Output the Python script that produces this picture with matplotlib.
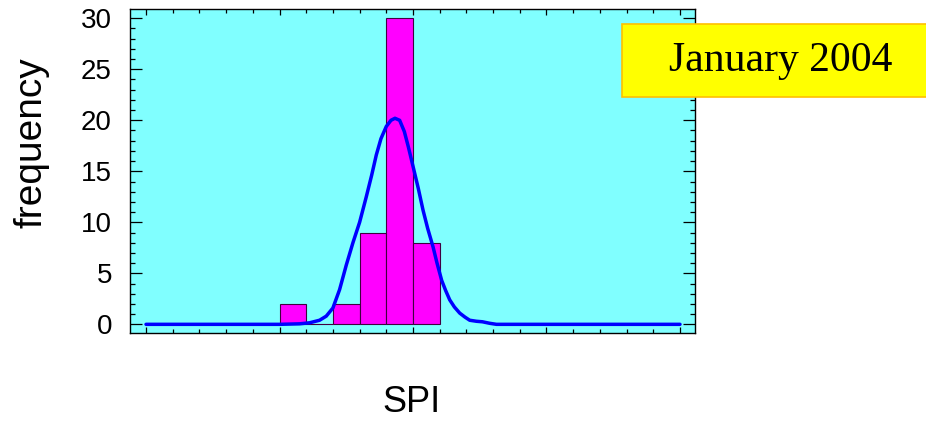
import numpy as np
from matplotlib import pyplot as plt
from matplotlib.patches import Rectangle
from matplotlib.ticker import MultipleLocator

# histogram bins (left edge) and counts
bin_left = [-2.0, -1.6, -1.2, -0.8, -0.4, 0.0]
counts = [2, 0, 2, 9, 30, 8]
bin_width = 0.4

# fitted normal curve
curve_x = [-4.0, -2.0, -1.7, -1.55, -1.4, -1.3, -1.2, -1.1, -1.0, -0.9, -0.8,
           -0.7, -0.62, -0.55, -0.48, -0.4, -0.33, -0.27, -0.2, -0.13, -0.07,
           0.0, 0.08, 0.15, 0.22, 0.3, 0.36, 0.43, 0.49, 0.55, 0.62, 0.7,
           0.78, 0.85, 0.95, 1.04, 1.15, 1.25, 4.0]
curve_y = [0.0, 0.0, 0.05, 0.15, 0.4, 0.8, 1.6, 3.4, 5.8, 8.0, 10.0,
           12.5, 14.6, 16.6, 18.2, 19.4, 20.0, 20.2, 20.0, 18.9, 17.4,
           15.5, 13.3, 11.2, 9.4, 7.6, 6.0, 4.3, 3.3, 2.4, 1.7, 1.1,
           0.7, 0.4, 0.3, 0.25, 0.1, 0.0, 0.0]

title = 'January 2004'

fig = plt.figure(figsize=(9.26, 4.23), dpi=100)
ax = fig.add_axes([130 / 926, 90 / 423, 565 / 926, 324 / 423])
ax.set_facecolor('#80FFFF')

ax.bar(bin_left, counts, width=bin_width, align='edge',
       color='#FF00FF', edgecolor='#400040', linewidth=0.8, zorder=2)
ax.plot(curve_x, curve_y, color='#0000FF', linewidth=2.5, zorder=3,
        solid_joinstyle='round', solid_capstyle='round')

ax.set_xlim(-4.24, 4.225)
ax.set_ylim(-0.85, 30.91)

ax.xaxis.set_major_locator(MultipleLocator(2))
ax.xaxis.set_minor_locator(MultipleLocator(0.4))
ax.yaxis.set_major_locator(MultipleLocator(5))
ax.yaxis.set_minor_locator(MultipleLocator(1))
ax.tick_params(axis='both', which='both', direction='in',
               top=True, right=True, color='black', width=0.9)
ax.tick_params(axis='x', which='major', length=4.3, labelbottom=False)
ax.tick_params(axis='x', which='minor', length=2.9)
ax.tick_params(axis='y', which='major', length=8.6, pad=13,
               labelsize=20)
ax.tick_params(axis='y', which='minor', length=3.6)
for lbl in ax.get_yticklabels():
    lbl.set_family('Liberation Sans')
for s in ax.spines.values():
    s.set_linewidth(1.0)

fig.text(31 / 926, 1 - 143 / 423, 'frequency', rotation=90,
         ha='center', va='center', fontsize=28, family='Liberation Sans')
fig.text(411 / 926, 1 - 402 / 423, 'SPI',
         ha='center', va='center', fontsize=26, family='Liberation Sans')

# yellow title box, runs off the right edge
box = Rectangle((622 / 926, 1 - 97 / 423), 320 / 926, 73 / 423,
                transform=fig.transFigure, facecolor='#FFFF00',
                edgecolor='#FFC000', linewidth=1.2, zorder=5)
fig.patches.append(box)
fig.text(781 / 926, 1 - 61 / 423, title, ha='center', va='center',
         fontsize=30, family='Liberation Serif', zorder=6)

fig.savefig('out.png', dpi=100)
